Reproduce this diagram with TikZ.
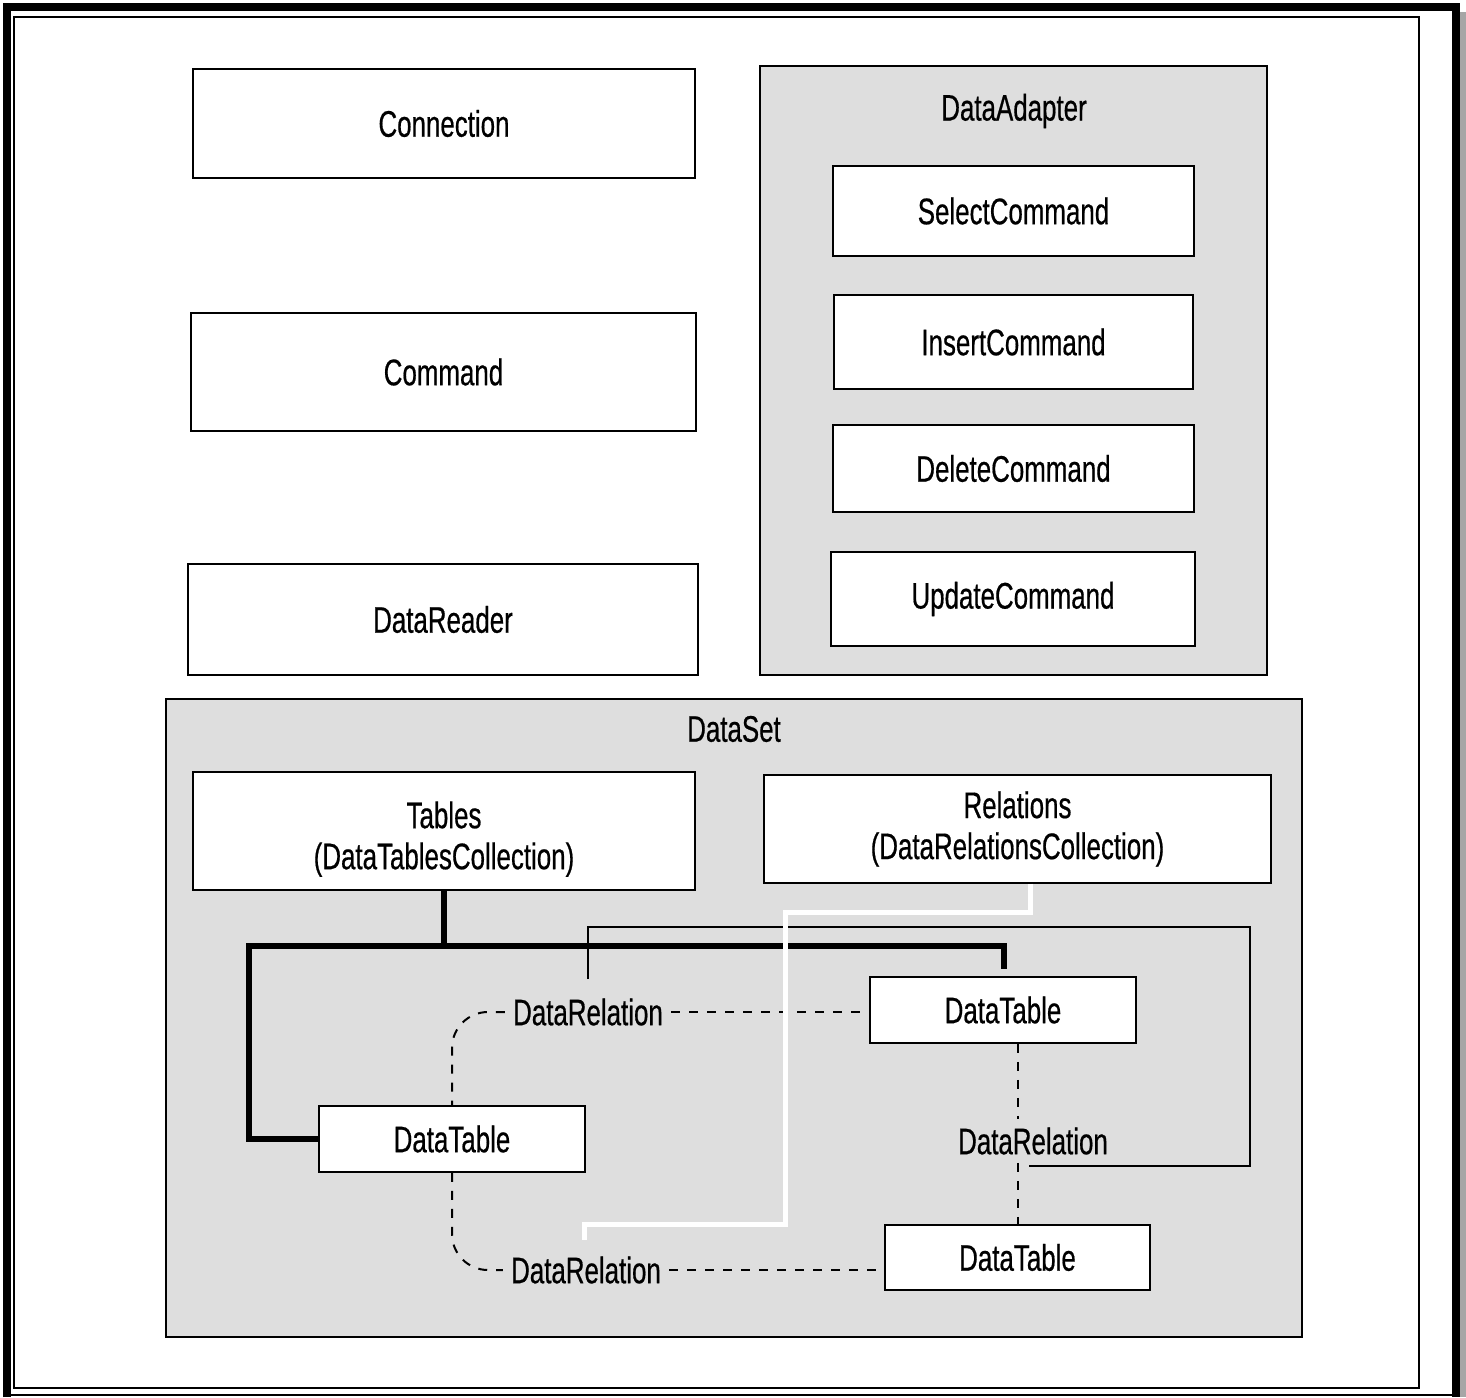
\documentclass[tikz,border=0pt]{standalone}
\usepackage{fontspec}
\setmainfont{Liberation Sans}[FakeStretch=0.7,FakeBold=0.5]
\usepackage{tikz}

\newcommand{\boxfont}{\fontsize{37}{41}\selectfont}

\tikzset{
  objbox/.style={draw, fill=white, line width=1.5pt, inner sep=0pt, font=\boxfont, align=center},
  groupbox/.style={draw, fill=black!13, line width=1.5pt, inner sep=0pt},
  caption/.style={inner sep=0pt, font=\boxfont},
  relname/.style={inner sep=8pt, font=\boxfont},
  tree/.style={line width=6pt, line join=miter},
  relline/.style={line width=2pt, dash pattern=on 9pt off 9pt},
  bracket/.style={line width=1.3pt},
  backlink/.style={white, line width=5pt}
}

\begin{document}
\begin{tikzpicture}[x=1pt,y=-1pt]
\useasboundingbox (0,0) rectangle (1466,1397);

% Frame
\fill[black!35] (1460,12) rectangle (1466,1397);
\draw[line width=8pt, line join=miter] (7,1397) -- (7,7) -- (1456,7) -- (1456,1397);
\draw[line width=1.5pt] (7,1395) -- (1456,1395);
\draw[line width=2pt] (14,17) rectangle (1419,1388);

% Left column
\node[objbox, minimum width=502pt, minimum height=109pt] (conn) at (444,123.5) {Connection};
\node[objbox, minimum width=505pt, minimum height=118pt] (cmd) at (443.5,372) {Command};
\node[objbox, minimum width=510pt, minimum height=111pt] (reader) at (443,619.5) {DataReader};

% DataAdapter group
\node[groupbox, minimum width=507pt, minimum height=609pt] (adapter) at (1013.5,370.5) {};
\node[caption] (adaptertitle) at (1014,111) {DataAdapter};
\node[objbox, minimum width=361pt, minimum height=90pt] (sel) at (1013.5,211) {SelectCommand};
\node[objbox, minimum width=359pt, minimum height=94pt] (ins) at (1013.5,342) {InsertCommand};
\node[objbox, minimum width=361pt, minimum height=87pt] (del) at (1013.5,468.5) {DeleteCommand};
\node[objbox, minimum width=364pt, minimum height=94pt] (upd) at (1013,599) {UpdateCommand};

% DataSet group
\node[groupbox, minimum width=1136pt, minimum height=638pt] (dataset) at (734,1018) {};
\node[caption] (datasettitle) at (734,729) {DataSet};
\node[objbox, minimum width=502pt, minimum height=118pt] (tables) at (444,831) {\rule{0pt}{43pt}Tables\\(DataTablesCollection)};
\node[objbox, minimum width=507pt, minimum height=108pt] (rels) at (1017.5,829) {Relations\\(DataRelationsCollection)};

% Tables and relations
\node[objbox, minimum width=266pt, minimum height=66pt] (dtA) at (1003,1010) {DataTable};
\node[objbox, minimum width=266pt, minimum height=66pt] (dtB) at (452,1139) {DataTable};
\node[objbox, minimum width=265pt, minimum height=65pt] (dtC) at (1017.5,1257.5) {DataTable};
\node[relname] (relA) at (588,1012) {DataRelation};
\node[relname] (relB) at (1033,1141) {DataRelation};
\node[relname] (relC) at (586,1270) {DataRelation};

% Collection tree
\coordinate (busL) at (249,946);
\coordinate (busR) at (1004,946);
\coordinate (dtAtop) at (1004,969);
\draw[tree] (tables.south) -- (tables.south |- busL);
\draw[tree] (dtB.west) -- (dtB.west -| busL) -- (busL) -- (busR) -- (dtAtop);

% Relations bracket
\coordinate (brA) at (588,979);
\coordinate (brB) at (1250,927);
\coordinate (brC) at (1029,1166);
\draw[bracket] (brA) |- (brB) |- (brC);

% Dashed relation lines
\draw[relline] (relA.east) -- (relA.east -| dtA.west);
\draw[relline, rounded corners=36pt] (relA.west) -| (dtB.north);
\draw[relline, rounded corners=36pt] (dtB.south) |- (relC.west);
\draw[relline] (relC.east) -- (relC.east -| dtC.west);
\draw[relline] (dtC.north |- dtA.south) -- (dtC.north |- relB.north);
\draw[relline] (dtC.north |- relB.south) -- (dtC.north);

% White link
\coordinate (wEnd) at (584,1240);
\draw[backlink] ([xshift=12.5pt]rels.south) |- (785,912) |- (wEnd |- 0,1224) -- (wEnd);

\end{tikzpicture}
\end{document}
